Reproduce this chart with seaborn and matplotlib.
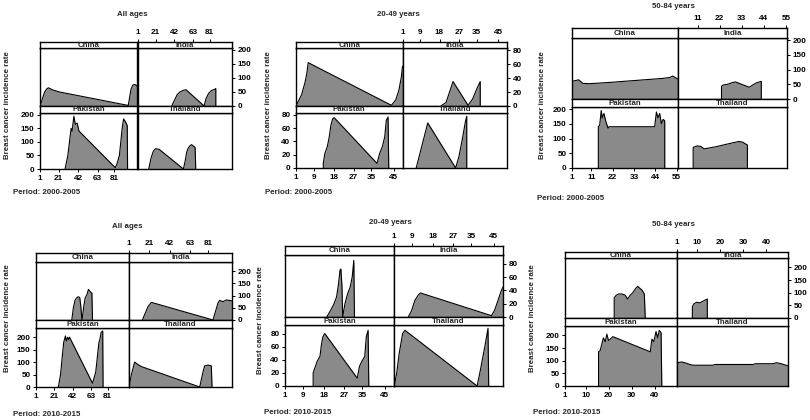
import numpy as np
import pandas as pd
import seaborn as sns
import matplotlib.pyplot as plt

sns.set_theme(style='ticks')
plt.rcParams['font.family'] = ['Liberation Sans', 'DejaVu Sans']

#%% data: x = index along the period, y = breast cancer incidence rate

# All ages, 2000-2005
a00_china_x = [1, 3, 6, 8, 10, 12, 14, 22, 96, 97, 99, 101, 103, 105, 106]
a00_china_y = [0, 20, 50, 60, 65, 62, 58, 50, 2, 20, 60, 75, 77, 73, 70]
a00_india_x = [39, 42, 45, 48, 52, 55, 75, 77, 80, 83, 87, 88, 88]
a00_india_y = [0, 20, 40, 50, 56, 58, 0, 25, 45, 55, 60, 62, 0]
a00_pakistan_x = [28, 31, 34.5, 35.5, 37.5, 39, 41, 43, 82, 84, 86.5, 89.5, 91, 93, 95, 95.3]
a00_pakistan_y = [0, 50, 150, 140, 195, 165, 170, 140, 5, 20, 50, 150, 185, 175, 160, 0]
a00_thailand_x = [13.5, 16, 18.5, 21, 25, 52, 54, 55.5, 57, 59, 61, 65, 65.7]
a00_thailand_y = [0, 40, 65, 75, 73, 0, 30, 60, 75, 85, 90, 80, 0]

# 20-49 years, 2000-2005
y00_china_x = [1, 3.5, 5, 5.8, 6.5, 44, 46, 47.4, 48.5, 49]
y00_china_y = [0, 16, 33, 45, 62, 1, 9, 23, 42, 57]
y00_india_x = [18.6, 21, 22.4, 24.2, 31.1, 33.2, 35.2, 36.7, 36.7]
y00_india_y = [0, 5, 18, 35, 1, 10, 25, 35, 0]
y00_pakistan_x = [13.3, 13.3, 14, 15.1, 16, 16.7, 17.5, 18.2, 37.5, 38.7, 39.9, 41, 41.7, 42.5, 42.8]
y00_pakistan_y = [0, 7, 22, 32, 47, 64, 74, 76, 7, 22, 32, 47, 72, 77, 0]
y00_thailand_x = [7.3, 12.6, 25.4, 26.9, 28.4, 29.9, 30.5, 30.5]
y00_thailand_y = [0, 68, 0, 17, 42, 70, 78, 0]

# 50-84 years, 2000-2005
o00_china_x = [1, 1, 3, 4.5, 6.6, 10, 20, 30, 40, 48, 51.5, 53, 55.5]
o00_china_y = [0, 60, 63, 65, 53, 52, 56, 61, 66, 70, 73, 78, 68]
o00_india_x = [22.9, 22.9, 24, 26, 28, 29.8, 36.7, 40, 42.7, 42.7]
o00_india_y = [0, 44, 48, 50, 55, 58, 40, 54, 60, 0]
o00_pakistan_x = [14.6, 14.6, 15.3, 16.1, 16.6, 17.5, 18.4, 19.6, 20.1, 43.7, 44.6, 45.4,
                  46.3, 47.2, 48.1, 48.9, 48.9]
o00_pakistan_y = [0, 140, 145, 195, 170, 185, 160, 135, 140, 140, 190, 170,
                  185, 150, 165, 160, 0]
o00_thailand_x = [8.8, 8.8, 10.8, 12.6, 14.3, 20, 25, 31.6, 33.3, 35.3, 35.8, 35.8]
o00_thailand_y = [0, 70, 75, 73, 65, 72, 80, 90, 88, 80, 78, 0]

# All ages, 2010-2015
a10_china_x = [41, 42.8, 44.6, 46.4, 48.1, 49.9, 51, 52.4, 54.6, 56, 58.1, 59.6, 61.7, 63.5, 64.2]
a10_china_y = [0, 50, 80, 90, 95, 92, 60, 0, 60, 90, 105, 125, 115, 110, 0]
a10_india_x = [14.5, 20.2, 23.6, 85.8, 90.9, 92.5, 95.9, 99.3, 105]
a10_india_y = [0, 55, 72, 0, 70, 80, 75, 82, 78]
a10_pakistan_x = [26, 28.5, 30.3, 32, 33.9, 34.9, 36.4, 37.4, 38.5, 64.2, 67.8, 69.6, 71.4,
                  72.4, 73.9, 75.6, 76]
a10_pakistan_y = [0, 51, 120, 180, 205, 185, 200, 190, 200, 15, 60, 120, 180,
                  190, 220, 225, 0]
a10_thailand_x = [1, 3.4, 6.7, 10.1, 13.5, 72.4, 75.7, 77.4, 80.8, 84.1, 84.8]
a10_thailand_y = [0, 50, 100, 90, 82, 0, 60, 85, 88, 85, 0]

# 20-49 years, 2010-2015
y10_china_x = [19.4, 21.1, 22.6, 23.7, 24.6, 25.2, 25.6, 26.1, 26.4, 27.4, 28.6, 29.7, 30.6, 31.3, 31.6]
y10_china_y = [0, 10, 20, 30, 50, 70, 72, 45, 0, 20, 35, 45, 60, 85, 0]
y10_india_x = [7.3, 8.8, 10.2, 11.7, 12.7, 43.9, 45.3, 46.8, 48.3, 49]
y10_india_y = [0, 10, 25, 33, 36, 2, 10, 25, 40, 45]
y10_pakistan_x = [13.4, 13.4, 14.4, 15.2, 16.4, 17, 17.7, 18.5, 32.8, 33.8, 34.9, 36.1, 36.8, 37.6, 37.9]
y10_pakistan_y = [0, 20, 30, 38, 45, 62, 75, 80, 12, 30, 38, 45, 75, 85, 0]
y10_thailand_x = [1.1, 2.2, 3.3, 4.8, 5.8, 37.6, 38.8, 41, 42.4, 42.7]
y10_thailand_y = [0, 20, 50, 80, 85, 0, 20, 60, 88, 0]

# 50-84 years, 2010-2015
o10_china_x = [22.4, 22.4, 23.3, 24.3, 25.7, 27.2, 28.2, 29.4, 30.5, 31.6, 32.6, 33.5, 34.5, 35.5, 35.9]
o10_china_y = [0, 80, 90, 95, 95, 90, 75, 90, 100, 115, 125, 118, 110, 95, 0]
o10_india_x = [7.9, 7.9, 8.5, 9.7, 11.1, 12.3, 13.3, 14.4, 14.4]
o10_india_y = [0, 45, 55, 62, 60, 65, 70, 75, 0]
o10_pakistan_x = [15.6, 15.6, 16.3, 17, 17.7, 18.5, 19.2, 19.9, 20.7, 21.8, 38.1, 38.8, 39.6,
                  40.6, 41.3, 42, 42.8, 43.1]
o10_pakistan_y = [0, 135, 140, 165, 190, 175, 205, 180, 185, 195, 135, 185, 175,
                  215, 190, 220, 210, 0]
o10_thailand_x = [1.3, 1.3, 3.2, 5.3, 6.8, 8.2, 16.9, 17.6, 34.2, 35.4, 42.9, 44.6, 46.5, 49.4]
o10_thailand_y = [0, 92, 95, 90, 85, 82, 82, 85, 85, 88, 88, 92, 88, 80]

ticks_all = [1, 21, 42, 63, 81]
ticks_young = [1, 9, 18, 27, 35, 45]
rate_200 = [0, 50, 100, 150, 200]
rate_80 = [0, 20, 40, 60, 80]

#%% layout helpers

W, H = 810, 420
FILL = '#8a8a8a'
LW = 1.0
FS = 5.7       # labels / strips
FS_TICK = 5.9  # tick labels
WEIGHT = 'bold'


def rect(x0, x1, y0, y1):
    # pixel box (y from top) -> figure fraction
    return [x0 / W, 1 - y1 / H, (x1 - x0) / W, (y1 - y0) / H]


def style_box(ax):
    for s in ax.spines.values():
        s.set_visible(True)
        s.set_color('black')
        s.set_linewidth(LW)
    ax.set_facecolor('white')
    ax.tick_params(labelsize=FS_TICK, length=2.5, width=0.7, pad=1.5, colors='black')
    for lab in ax.get_xticklabels() + ax.get_yticklabels():
        lab.set_fontweight(WEIGHT)


def draw_panel(fig, box, xlim, ylim, xticks, top_xticks, yticks, series,
               title, title_pos, period, period_pos, ylab_pos):
    left, mid, right, top, s1, f1, s2, bottom = box
    cells = {
        'China': (left, mid, s1, f1),
        'India': (mid, right, s1, f1),
        'Pakistan': (left, mid, s2, bottom),
        'Thailand': (mid, right, s2, bottom),
    }
    strips = {
        'China': (left, mid, top, s1),
        'India': (mid, right, top, s1),
        'Pakistan': (left, mid, f1, s2),
        'Thailand': (mid, right, f1, s2),
    }
    for name, (xs, ys) in series.items():
        ax = fig.add_axes(rect(*cells[name]))
        ax.fill_between(xs, ys, 0, color=FILL, lw=0)
        sns.lineplot(x=xs, y=ys, ax=ax, color='black', lw=0.8,
                     sort=False, estimator=None)
        ax.set_xlim(*xlim)
        ax.set_ylim(*ylim)
        ax.set_xlabel('')
        ax.set_ylabel('')
        ax.set_xticks([])
        ax.set_yticks([])
        if name == 'Pakistan':
            ax.set_xticks(xticks)
            ax.set_yticks(yticks)
        if name == 'India':
            ax.yaxis.tick_right()
            ax.set_yticks(yticks)
        style_box(ax)

        st = fig.add_axes(rect(*strips[name]))
        st.set_xlim(*xlim)
        st.set_ylim(0, 1)
        st.set_yticks([])
        st.set_xticks([])
        if name == 'India':
            st.xaxis.tick_top()
            st.set_xticks(top_xticks)
        style_box(st)
        st.text(0.5, 0.45, name, ha='center', va='center', fontsize=FS,
                fontweight=WEIGHT, transform=st.transAxes)

    fig.text(title_pos[0] / W, 1 - title_pos[1] / H, title,
             ha='center', va='center', fontsize=FS, fontweight=WEIGHT)
    fig.text(period_pos[0] / W, 1 - period_pos[1] / H, period,
             ha='left', va='center', fontsize=FS, fontweight=WEIGHT)
    fig.text(ylab_pos[0] / W, 1 - ylab_pos[1] / H, 'Breast cancer incidence rate',
             rotation=90, ha='center', va='center', fontsize=FS, fontweight=WEIGHT)


#%% draw

fig = plt.figure(figsize=(8.1, 4.2), dpi=100)

draw_panel(fig, (40, 137.5, 232, 42, 48, 106, 113, 169), (1, 106), (0, 207),
           ticks_all, ticks_all, rate_200,
           {'China': (a00_china_x, a00_china_y), 'India': (a00_india_x, a00_india_y),
            'Pakistan': (a00_pakistan_x, a00_pakistan_y),
            'Thailand': (a00_thailand_x, a00_thailand_y)},
           'All ages', (132, 14), 'Period: 2000-2005', (13, 193), (8, 105))

draw_panel(fig, (296, 402.5, 507, 42, 48, 106, 113, 168), (1, 49), (0, 83),
           ticks_young, ticks_young, rate_80,
           {'China': (y00_china_x, y00_china_y), 'India': (y00_india_x, y00_india_y),
            'Pakistan': (y00_pakistan_x, y00_pakistan_y),
            'Thailand': (y00_thailand_x, y00_thailand_y)},
           '20-49 years', (398, 14), 'Period: 2000-2005', (265, 193), (268, 105))

draw_panel(fig, (572, 677.5, 787, 28, 38, 99, 107, 168), (1, 55.5), (0, 207),
           [1, 11, 22, 33, 44, 55], [11, 22, 33, 44, 55], rate_200,
           {'China': (o00_china_x, o00_china_y), 'India': (o00_india_x, o00_india_y),
            'Pakistan': (o00_pakistan_x, o00_pakistan_y),
            'Thailand': (o00_thailand_x, o00_thailand_y)},
           '50-84 years', (673, 6), 'Period: 2000-2005', (537, 198), (543, 105))

draw_panel(fig, (36, 129, 232, 253, 262, 320, 328, 387), (1, 105), (0, 237),
           ticks_all, ticks_all, rate_200,
           {'China': (a10_china_x, a10_china_y), 'India': (a10_india_x, a10_india_y),
            'Pakistan': (a10_pakistan_x, a10_pakistan_y),
            'Thailand': (a10_thailand_x, a10_thailand_y)},
           'All ages', (127, 227), 'Period: 2010-2015', (13, 414), (8, 318))

draw_panel(fig, (285, 394, 503, 246, 255, 317, 325, 386), (1, 49), (0, 93),
           ticks_young, ticks_young, rate_80,
           {'China': (y10_china_x, y10_china_y), 'India': (y10_india_x, y10_india_y),
            'Pakistan': (y10_pakistan_x, y10_pakistan_y),
            'Thailand': (y10_thailand_x, y10_thailand_y)},
           '20-49 years', (390, 222), 'Period: 2010-2015', (264, 413), (261, 320))

draw_panel(fig, (565, 676.5, 788, 252, 258, 318, 326, 386), (1, 49.5), (0, 237),
           [1, 10, 20, 30, 40], [1, 10, 20, 30, 40], rate_200,
           {'China': (o10_china_x, o10_china_y), 'India': (o10_india_x, o10_india_y),
            'Pakistan': (o10_pakistan_x, o10_pakistan_y),
            'Thailand': (o10_thailand_x, o10_thailand_y)},
           '50-84 years', (673, 225), 'Period: 2010-2015', (533, 412), (533, 318))

plt.savefig('out.png', dpi=100)
plt.close()
